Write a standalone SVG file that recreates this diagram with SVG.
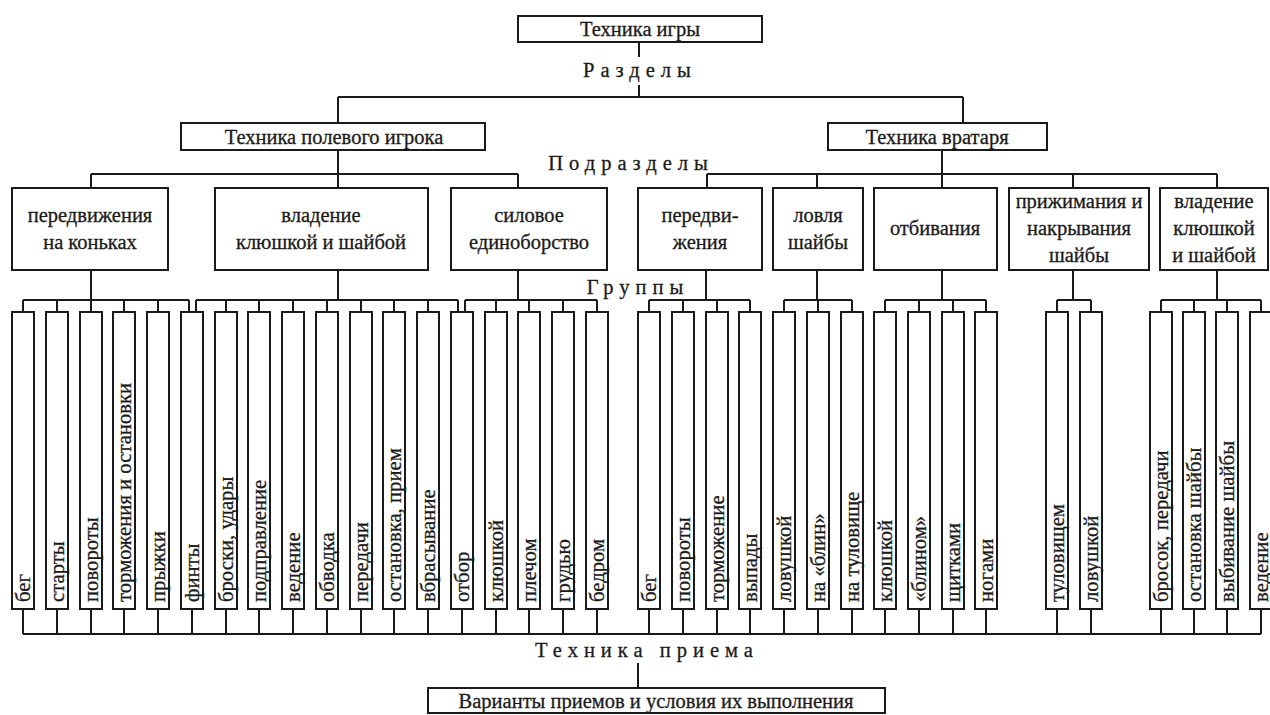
<svg xmlns="http://www.w3.org/2000/svg" width="1270" height="715" viewBox="0 0 1270 715">
<style>
.bx{fill:#fff;stroke:#1a1a1a;stroke-width:2}
.ln{fill:none;stroke:#1a1a1a;stroke-width:2}
.t{font-family:'Liberation Serif','DejaVu Serif',serif;font-size:20.5px;fill:#1a1a1a;stroke:#1a1a1a;stroke-width:0.3;text-anchor:middle}
.sp{letter-spacing:6px}
.lf{font-family:'Liberation Serif','DejaVu Serif',serif;font-size:20.7px;fill:#1a1a1a;stroke:#1a1a1a;stroke-width:0.3;text-anchor:start}
</style>
<rect width="1270" height="715" fill="#fff"/>
<g id="connectors" class="ln">
<path d="M639 42V57M639 85V97M338 97H963M338 97V123M963 97V123"/>
<path d="M338 150V188M91 174H518M91 174V188M518 174V188"/>
<path d="M942 150V188M707 174H1217M707 174V188M817 174V188M1073 174V188M1217 174V188"/>
<path d="M91 270V300M338 270V300M518 270V300M706 270V300M817 270V300M942 270V300M1073 270V300M1217 270V300"/>
<path d="M23 300H189M196 300H458M465 300H597M649 300H750M784 300H852M885 300H986M1057 300H1091M1161 300H1261"/>
<path d="M23 300V312M57 300V312M91 300V312M124 300V312M158 300V312M189 300V312M196 300V312M226 300V312M259 300V312M293 300V312M327 300V312M361 300V312M394 300V312M428 300V312M458 300V312M465 300V312M496 300V312M529 300V312M563 300V312M597 300V312M649 300V312M683 300V312M717 300V312M750 300V312M784 300V312M818 300V312M852 300V312M885 300V312M919 300V312M953 300V312M986 300V312M1057 300V312M1091 300V312M1161 300V312M1194 300V312M1227 300V312M1261 300V312"/>
<path d="M23 609V634M57 609V634M91 609V634M124 609V634M158 609V634M192 609V634M226 609V634M259 609V634M293 609V634M327 609V634M361 609V634M394 609V634M428 609V634M462 609V634M496 609V634M529 609V634M563 609V634M597 609V634M649 609V634M683 609V634M717 609V634M750 609V634M784 609V634M818 609V634M852 609V634M885 609V634M919 609V634M953 609V634M986 609V634M1057 609V634M1091 609V634M1161 609V634M1194 609V634M1227 609V634M1261 609V634"/>
<path d="M23 634H1261M638 663V688"/>
</g>
<g id="labels">
<text class="t sp" x="640" y="77">Разделы</text>
<text class="t sp" x="631" y="170">Подразделы</text>
<text class="t sp" x="638" y="294">Группы</text>
<text class="t sp" x="647" y="657">Техника  приема</text>
</g>
<g id="root"><rect class="bx" x="518" y="16" width="244" height="26"/><text class="t" x="640" y="36">Техника игры</text></g>
<g id="field"><rect class="bx" x="181" y="123" width="304" height="27"/><text class="t" x="334" y="144">Техника полевого игрока</text></g>
<g id="goalie"><rect class="bx" x="828" y="123" width="219" height="27"/><text class="t" x="937" y="144">Техника вратаря</text></g>
<g id="s-skating"><rect class="bx" x="12" y="188" width="156" height="82"/><text class="t" x="90" y="222">передвижения</text><text class="t" x="90" y="249">на коньках</text></g>
<g id="s-stick"><rect class="bx" x="215" y="188" width="213" height="82"/><text class="t" x="321" y="222">владение</text><text class="t" x="321" y="249">клюшкой и шайбой</text></g>
<g id="s-power"><rect class="bx" x="451" y="188" width="156" height="82"/><text class="t" x="529" y="222">силовое</text><text class="t" x="529" y="249">единоборство</text></g>
<g id="g-move"><rect class="bx" x="638" y="188" width="124" height="82"/><text class="t" x="700" y="222">передви-</text><text class="t" x="700" y="249">жения</text></g>
<g id="g-catch"><rect class="bx" x="773" y="188" width="90" height="82"/><text class="t" x="818" y="222">ловля</text><text class="t" x="818" y="249">шайбы</text></g>
<g id="g-block"><rect class="bx" x="874" y="188" width="123" height="82"/><text class="t" x="935" y="235">отбивания</text></g>
<g id="g-press"><rect class="bx" x="1009" y="188" width="140" height="82"/><text class="t" x="1079" y="208">прижимания и</text><text class="t" x="1079" y="235">накрывания</text><text class="t" x="1079" y="262">шайбы</text></g>
<g id="g-stick"><rect class="bx" x="1160" y="188" width="108" height="82"/><text class="t" x="1214" y="208">владение</text><text class="t" x="1214" y="235">клюшкой</text><text class="t" x="1214" y="262">и шайбой</text></g>
<g id="leaves-field">
<g id="f1"><rect class="bx" x="12" y="312" width="22" height="297"/><text class="lf" transform="translate(30 602) rotate(-90)">бег</text></g>
<g id="f2"><rect class="bx" x="46" y="312" width="22" height="297"/><text class="lf" transform="translate(64 602) rotate(-90)">старты</text></g>
<g id="f3"><rect class="bx" x="80" y="312" width="22" height="297"/><text class="lf" transform="translate(98 602) rotate(-90)">повороты</text></g>
<g id="f4"><rect class="bx" x="113" y="312" width="22" height="297"/><text class="lf" transform="translate(131 602) rotate(-90)">торможения и остановки</text></g>
<g id="f5"><rect class="bx" x="147" y="312" width="22" height="297"/><text class="lf" transform="translate(165 602) rotate(-90)">прыжки</text></g>
<g id="f6"><rect class="bx" x="181" y="312" width="22" height="297"/><text class="lf" transform="translate(199 602) rotate(-90)">финты</text></g>
<g id="f7"><rect class="bx" x="215" y="312" width="22" height="297"/><text class="lf" transform="translate(233 602) rotate(-90)">броски, удары</text></g>
<g id="f8"><rect class="bx" x="248" y="312" width="22" height="297"/><text class="lf" transform="translate(266 602) rotate(-90)">подправление</text></g>
<g id="f9"><rect class="bx" x="282" y="312" width="22" height="297"/><text class="lf" transform="translate(300 602) rotate(-90)">ведение</text></g>
<g id="f10"><rect class="bx" x="316" y="312" width="22" height="297"/><text class="lf" transform="translate(334 602) rotate(-90)">обводка</text></g>
<g id="f11"><rect class="bx" x="350" y="312" width="22" height="297"/><text class="lf" transform="translate(368 602) rotate(-90)">передачи</text></g>
<g id="f12"><rect class="bx" x="383" y="312" width="22" height="297"/><text class="lf" transform="translate(401 602) rotate(-90)">остановка, прием</text></g>
<g id="f13"><rect class="bx" x="417" y="312" width="22" height="297"/><text class="lf" transform="translate(435 602) rotate(-90)">вбрасывание</text></g>
<g id="f14"><rect class="bx" x="451" y="312" width="22" height="297"/><text class="lf" transform="translate(469 602) rotate(-90)">отбор</text></g>
<g id="f15"><rect class="bx" x="485" y="312" width="22" height="297"/><text class="lf" transform="translate(503 602) rotate(-90)">клюшкой</text></g>
<g id="f16"><rect class="bx" x="518" y="312" width="22" height="297"/><text class="lf" transform="translate(536 602) rotate(-90)">плечом</text></g>
<g id="f17"><rect class="bx" x="552" y="312" width="22" height="297"/><text class="lf" transform="translate(570 602) rotate(-90)">грудью</text></g>
<g id="f18"><rect class="bx" x="586" y="312" width="22" height="297"/><text class="lf" transform="translate(604 602) rotate(-90)">бедром</text></g>
</g>
<g id="leaves-goalie">
<g id="g1"><rect class="bx" x="638" y="312" width="22" height="297"/><text class="lf" transform="translate(656 602) rotate(-90)">бег</text></g>
<g id="g2"><rect class="bx" x="672" y="312" width="22" height="297"/><text class="lf" transform="translate(690 602) rotate(-90)">повороты</text></g>
<g id="g3"><rect class="bx" x="706" y="312" width="22" height="297"/><text class="lf" transform="translate(724 602) rotate(-90)">торможение</text></g>
<g id="g4"><rect class="bx" x="739" y="312" width="22" height="297"/><text class="lf" transform="translate(757 602) rotate(-90)">выпады</text></g>
<g id="g5"><rect class="bx" x="773" y="312" width="22" height="297"/><text class="lf" transform="translate(791 602) rotate(-90)">ловушкой</text></g>
<g id="g6"><rect class="bx" x="807" y="312" width="22" height="297"/><text class="lf" transform="translate(825 602) rotate(-90)">на «блин»</text></g>
<g id="g7"><rect class="bx" x="841" y="312" width="22" height="297"/><text class="lf" transform="translate(859 602) rotate(-90)">на туловище</text></g>
<g id="g8"><rect class="bx" x="874" y="312" width="22" height="297"/><text class="lf" transform="translate(892 602) rotate(-90)">клюшкой</text></g>
<g id="g9"><rect class="bx" x="908" y="312" width="22" height="297"/><text class="lf" transform="translate(926 602) rotate(-90)">«блином»</text></g>
<g id="g10"><rect class="bx" x="942" y="312" width="22" height="297"/><text class="lf" transform="translate(960 602) rotate(-90)">щитками</text></g>
<g id="g11"><rect class="bx" x="975" y="312" width="22" height="297"/><text class="lf" transform="translate(993 602) rotate(-90)">ногами</text></g>
<g id="g12"><rect class="bx" x="1046" y="312" width="22" height="297"/><text class="lf" transform="translate(1064 602) rotate(-90)">туловищем</text></g>
<g id="g13"><rect class="bx" x="1080" y="312" width="22" height="297"/><text class="lf" transform="translate(1098 602) rotate(-90)">ловушкой</text></g>
<g id="g14"><rect class="bx" x="1150" y="312" width="22" height="297"/><text class="lf" transform="translate(1168 602) rotate(-90)">бросок, передачи</text></g>
<g id="g15"><rect class="bx" x="1183" y="312" width="22" height="297"/><text class="lf" transform="translate(1201 602) rotate(-90)">остановка шайбы</text></g>
<g id="g16"><rect class="bx" x="1216" y="312" width="22" height="297"/><text class="lf" transform="translate(1234 602) rotate(-90)">выбивание шайбы</text></g>
<g id="g17"><rect class="bx" x="1250" y="312" width="22" height="297"/><text class="lf" transform="translate(1268 602) rotate(-90)">ведение</text></g>
</g>
<g id="variants"><rect class="bx" x="428" y="688" width="457" height="25"/><text class="t" x="656" y="708">Варианты приемов и условия их выполнения</text></g>
</svg>
